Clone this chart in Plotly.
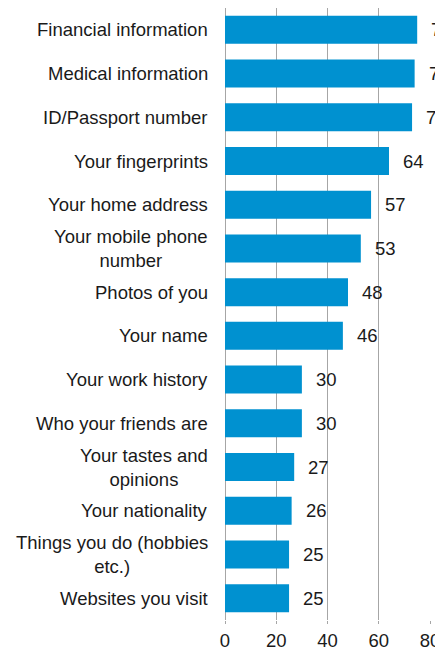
import plotly.graph_objects as go

categories = [
    "Financial information",
    "Medical information",
    "ID/Passport number",
    "Your fingerprints",
    "Your home address",
    "Your mobile phone<br>number",
    "Photos of you",
    "Your name",
    "Your work history",
    "Who your friends are",
    "Your tastes and<br>opinions",
    "Your nationality",
    "Things you do (hobbies<br>etc.)",
    "Websites you visit",
]
values = [75, 74, 73, 64, 57, 53, 48, 46, 30, 30, 27, 26, 25, 25]
x_ticks = [0, 20, 40, 60, 80]

FONT = "Liberation Sans, Arial, sans-serif"
TXT = "#1a1a1a"
FS = 18.5

fig = go.Figure()
fig.add_trace(go.Bar(
    y=categories,
    x=values,
    orientation="h",
    marker=dict(color="#0091d0", line=dict(width=0)),
    width=0.64,
    hoverinfo="skip",
    cliponaxis=False,
))

annotations = []
for c, v in zip(categories, values):
    annotations.append(dict(
        x=v, y=c, xref="x", yref="y", text=str(v), showarrow=False,
        xanchor="left", xshift=12, yshift=0,
        font=dict(family=FONT, size=FS, color=TXT),
    ))
    annotations.append(dict(
        x=0, y=c, xref="paper", yref="y", text=c, showarrow=False,
        xanchor="right", xshift=-15, align="center",
        font=dict(family=FONT, size=FS, color=TXT),
    ))

fig.update_layout(
    width=435, height=644,
    margin=dict(l=217, r=12.5, t=0, b=31.5),
    paper_bgcolor="white", plot_bgcolor="white",
    showlegend=False,
    annotations=annotations,
    font=dict(family=FONT, size=FS, color=TXT),
)
fig.update_xaxes(
    range=[0, 80], tickvals=x_ticks, ticktext=[str(t) for t in x_ticks],
    showgrid=True, gridcolor="#a6a6a6", gridwidth=1,
    zeroline=True, zerolinecolor="#a6a6a6", zerolinewidth=1,
    showline=False, ticks="outside", ticklen=3, tickcolor="#a6a6a6",
    ticklabelstandoff=1, automargin=False,
    tickfont=dict(family=FONT, size=FS, color=TXT),
    fixedrange=True,
)
fig.update_yaxes(
    categoryorder="array", categoryarray=categories[::-1],
    showticklabels=False, showgrid=False, zeroline=False, showline=False,
    range=[-0.5, len(categories) - 0.5], fixedrange=True, automargin=False,
)

fig.write_html("out.html", config={"displayModeBar": False})
